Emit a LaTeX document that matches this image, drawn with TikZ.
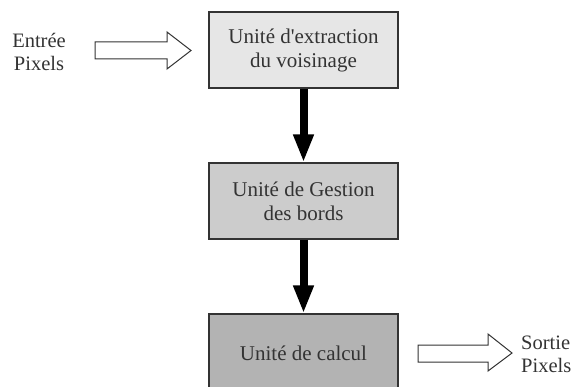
\documentclass[tikz,border=0pt]{standalone}
\usepackage{fontspec}
\setmainfont{Liberation Serif}
\usetikzlibrary{arrows.meta}
\definecolor{ink}{HTML}{333333}
\definecolor{fillA}{HTML}{E6E6E6}
\definecolor{fillB}{HTML}{CCCCCC}
\definecolor{fillC}{HTML}{B3B3B3}
\tikzset{
  unitbox/.style={draw=ink, line width=1.2pt, minimum width=189pt, minimum height=76pt,
    inner sep=0pt, align=center, text=ink, font=\fontsize{21}{24}\selectfont},
  label/.style={text=ink, font=\fontsize{20.5}{23}\selectfont, inner sep=0pt},
  flow/.style={line width=8pt, -{Triangle[width=19pt,length=28pt]}},
  blockarrow/.style={draw=ink, line width=1pt, fill=white, line join=miter},
}
\begin{document}
\begin{tikzpicture}[x=1pt,y=-1pt]
  \useasboundingbox (0,0) rectangle (575,387);
  \clip (0,0) rectangle (575,387);

  % processing units
  \node[unitbox, fill=fillA] (ext) at (303.5,50) {Unité d\textquotesingle extraction\\du voisinage};
  \node[unitbox, fill=fillB] (bord) at (303.5,201) {Unité de Gestion\\des bords};
  \node[unitbox, fill=fillC, minimum height=78pt] (calc) at (303.5,353) {Unité de calcul};

  % data flow between units
  \draw[flow] (ext.south) -- (bord.north);
  \draw[flow] (bord.south) -- (calc.north);

  % input and output labels
  \node[label, align=center] (in) at (39,52) {Entrée\\Pixels};
  \node[label, align=left, anchor=west] (out) at (521,354) {Sortie\\Pixels};

  % input block arrow
  \draw[blockarrow] (95,42) -- (167,42) -- (167,32) -- (191,50.5) -- (167,69) -- (167,59) -- (95,59) -- cycle;
  % output block arrow
  \draw[blockarrow] (418,345) -- (488,345) -- (488,334) -- (512,353) -- (488,371) -- (488,362) -- (418,362) -- cycle;
\end{tikzpicture}
\end{document}
